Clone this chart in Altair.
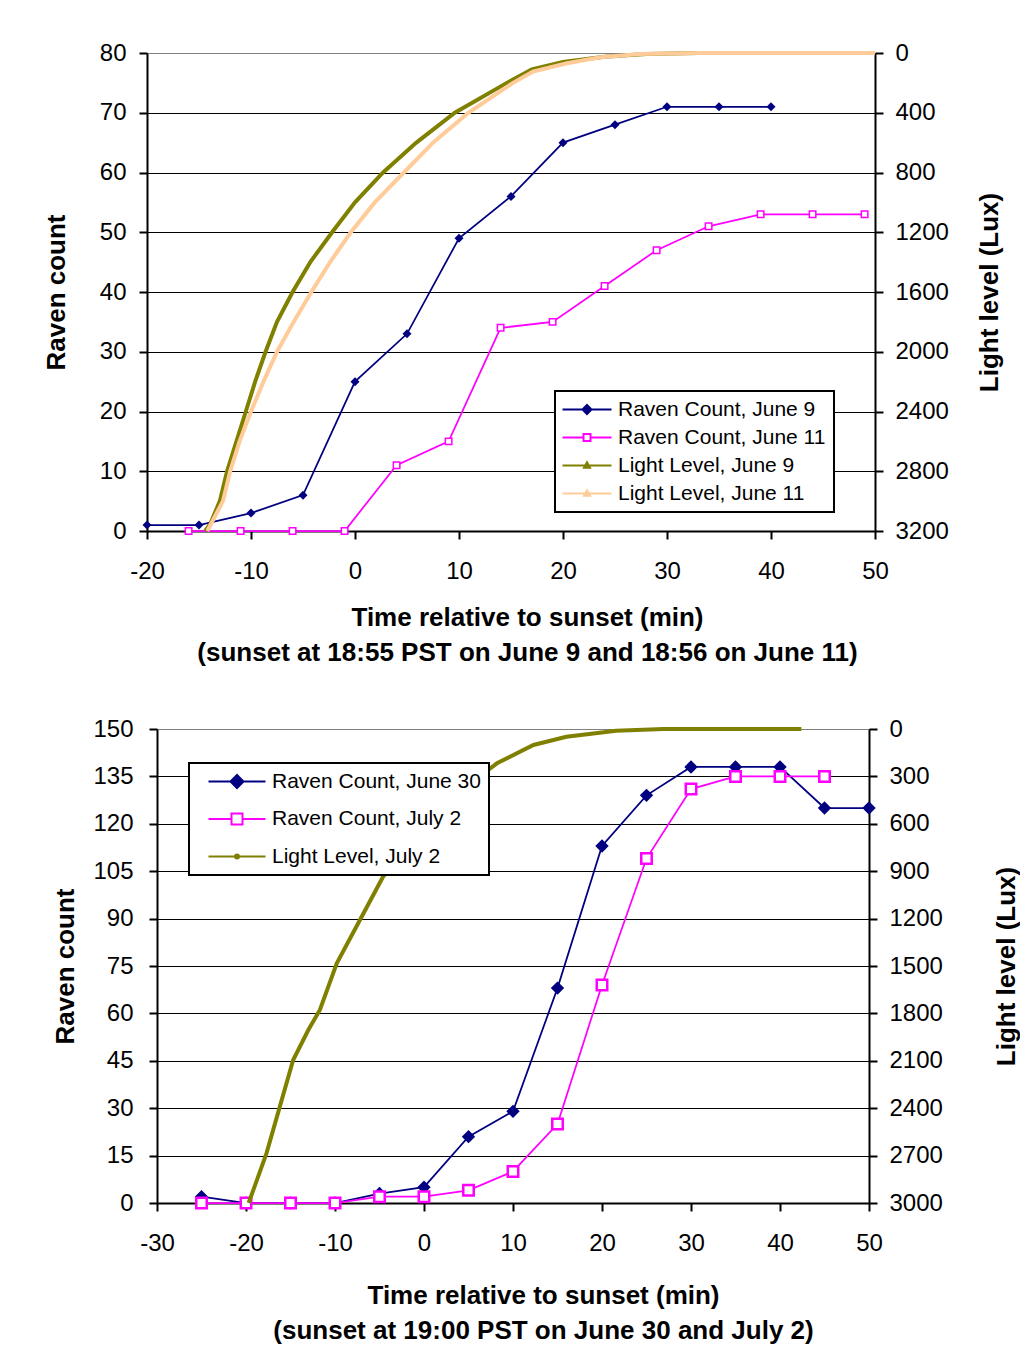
import altair as alt
import pandas as pd

# ---------------- Chart 1 (June 9 / June 11) ----------------
c1_t_june9 = [-20, -15, -10, -5, 0, 5, 10, 15, 20, 25, 30, 35, 40]
c1_raven_june9 = [1, 1, 3, 6, 25, 33, 49, 56, 65, 68, 71, 71, 71]
c1_t_june11 = [-16, -11, -6, -1, 4, 9, 14, 19, 24, 29, 34, 39, 44, 49]
c1_raven_june11 = [0, 0, 0, 0, 11, 15, 34, 35, 41, 47, 51, 53, 53, 53]

c1_light9_t = [-14.4, -13.9, -13.0, -12.3, -11.4, -10.5, -9.6, -8.6, -7.5, -6.0, -4.3,
               -2.2, 0.0, 2.7, 5.9, 9.6, 14.6, 17.0, 20.0, 24.0, 28.0, 33.0]
c1_light9_lux = [3200, 3150, 3000, 2800, 2600, 2400, 2200, 2000, 1800, 1600, 1400,
                 1200, 1000, 800, 600, 400, 200, 110, 60, 25, 6, 0]
c1_light11_t = [-14.2, -12.7, -12.0, -11.1, -10.0, -8.8, -7.5, -5.9, -4.2, -2.4, -0.4,
                1.9, 4.7, 7.5, 10.9, 15.2, 17.1, 20.4, 23.6, 27.4, 33.2, 50.0]
c1_light11_lux = [3200, 3000, 2800, 2600, 2400, 2200, 2000, 1800, 1600, 1400, 1200,
                  1000, 800, 600, 400, 200, 125, 69, 29, 7, 0, 0]

c1_series = ["Raven Count, June 9", "Raven Count, June 11",
             "Light Level, June 9", "Light Level, June 11"]
c1_x_ticks = [-20, -10, 0, 10, 20, 30, 40, 50]
c1_count_ticks = [0, 10, 20, 30, 40, 50, 60, 70, 80]
c1_lux_ticks = [0, 400, 800, 1200, 1600, 2000, 2400, 2800, 3200]
c1_title = ["Time relative to sunset (min)",
            "(sunset at 18:55 PST on June 9 and 18:56 on June 11)"]

# ---------------- Chart 2 (June 30 / July 2) ----------------
c2_t_june30 = [-25, -20, -15, -10, -5, 0, 5, 10, 15, 20, 25, 30, 35, 40, 45, 50]
c2_raven_june30 = [2, 0, 0, 0, 3, 5, 21, 29, 68, 113, 129, 138, 138, 138, 125, 125]
c2_t_july2 = [-25, -20, -15, -10, -5, 0, 5, 10, 15, 20, 25, 30, 35, 40, 45]
c2_raven_july2 = [0, 0, 0, 0, 2, 2, 4, 10, 25, 69, 109, 131, 135, 135, 135]

c2_light_t = [-19.7, -17.7, -16.2, -14.7, -13.0, -11.7, -9.8, -7.2, -4.6, -2.0, 0.0,
              2.0, 4.0, 6.0, 8.2, 12.3, 16.0, 21.6, 26.9, 42.4]
c2_light_lux = [3000, 2686, 2390, 2095, 1905, 1778, 1483, 1209, 935, 770, 640,
                520, 410, 310, 217, 101, 49, 11, 0, 0]

c2_series = ["Raven Count, June 30", "Raven Count, July 2", "Light Level, July 2"]
c2_x_ticks = [-30, -20, -10, 0, 10, 20, 30, 40, 50]
c2_count_ticks = [0, 15, 30, 45, 60, 75, 90, 105, 120, 135, 150]
c2_lux_ticks = [0, 300, 600, 900, 1200, 1500, 1800, 2100, 2400, 2700, 3000]
c2_title = ["Time relative to sunset (min)",
            "(sunset at 19:00 PST on June 30 and July 2)"]

NAVY = "#000080"
MAGENTA = "#FF00FF"
OLIVE = "#808000"
PEACH = "#FFCC99"
FONT = "Liberation Sans"
LABEL_EXPR = "datum.value < 0 ? '-' + abs(datum.value) : '' + datum.value"


def x_enc(domain, ticks, title, title_x, title_pad, rng=None):
    sc = dict(domain=domain, nice=False, zero=False)
    if rng is not None:
        sc["range"] = rng
    return alt.X("t:Q", title=title, scale=alt.Scale(**sc),
                 axis=alt.Axis(values=ticks, grid=False, labelExpr=LABEL_EXPR,
                               labelPadding=20, titleX=title_x, titlePadding=title_pad,
                               titleLineHeight=35, labelFlush=False))


def y_count(domain, ticks, label_pad, title_pad, offset=0):
    return alt.Y("v:Q", title="Raven count",
                 scale=alt.Scale(domain=domain, nice=False),
                 axis=alt.Axis(values=ticks, orient="left", grid=True, offset=offset,
                               gridColor={"condition": {"test": f"datum.value === {domain[1]}",
                                                        "value": "#808080"},
                                          "value": "#000000"},
                               labelExpr=LABEL_EXPR,
                               labelPadding=label_pad, titlePadding=title_pad))


def y_lux(domain, ticks, label_pad, title_pad):
    return alt.Y("v:Q", title="Light level (Lux)",
                 scale=alt.Scale(domain=domain, nice=False, reverse=True),
                 axis=alt.Axis(values=ticks, orient="right", grid=False,
                               labelExpr=LABEL_EXPR,
                               labelPadding=label_pad, titlePadding=title_pad,
                               titleAngle=270, titleBaseline="top"))


def df(t, v):
    return pd.DataFrame({"t": t, "v": v})


def legend_layer(series, paths, fills, strokes, lx, ly, row_pad, label_offset, label_expr=None):
    leg = dict(title=None, orient="none", legendX=lx, legendY=ly, direction="vertical",
               labelFont=FONT, labelFontSize=21, labelColor="black", labelLimit=500,
               labelOffset=label_offset, symbolSize=100, symbolStrokeWidth=2,
               symbolOpacity=1, rowPadding=row_pad, padding=8)
    if label_expr is not None:
        leg["labelExpr"] = label_expr
    return alt.Chart(pd.DataFrame({"series": series})).mark_point(opacity=0, size=100).encode(
        shape=alt.Shape("series:N", scale=alt.Scale(domain=series, range=paths),
                        legend=alt.Legend(**leg)),
        fill=alt.Fill("series:N", scale=alt.Scale(domain=series, range=fills),
                      legend=alt.Legend(**leg)),
        stroke=alt.Stroke("series:N", scale=alt.Scale(domain=series, range=strokes),
                          legend=alt.Legend(**leg)),
    )


# ---------- chart 1 ----------
x1 = x_enc([-20, 50], c1_x_ticks, c1_title, 380, 21)
yc1 = y_count([0, 80], c1_count_ticks, 13, 30)
yl1 = y_lux([0, 3200], c1_lux_ticks, 12, 28)

c1_paths = [
    "M-2.2,0H7.6M2.7,-0.9L3.6,0L2.7,0.9L1.8,0Z",
    "M-2.2,0H2M3.4,0H7.6M2,-0.7H3.4V0.7H2Z",
    "M-2.2,0H7.6M2.7,-0.65L3.3,0.45H2.1Z",
    "M-2.2,0H7.6M2.7,-0.65L3.3,0.45H2.1Z",
]
raven1 = alt.layer(
    alt.Chart(df(c1_t_june9, c1_raven_june9)).mark_line(color=NAVY, strokeWidth=1.75).encode(x=x1, y=yc1),
    alt.Chart(df(c1_t_june9, c1_raven_june9)).mark_point(shape="diamond", filled=True, color=NAVY, size=81, opacity=1).encode(x=x1, y=yc1),
    alt.Chart(df(c1_t_june11, c1_raven_june11)).mark_line(color=MAGENTA, strokeWidth=1.75).encode(x=x1, y=yc1),
    alt.Chart(df(c1_t_june11, c1_raven_june11)).mark_point(shape="square", fill="white", stroke=MAGENTA, strokeWidth=1.5, size=42, opacity=1).encode(x=x1, y=yc1),
    legend_layer(c1_series, c1_paths, [NAVY, "white", OLIVE, PEACH],
                 [NAVY, MAGENTA, OLIVE, PEACH], 408, 338, 6, 34),
)
light1 = alt.layer(
    alt.Chart(df(c1_light9_t, c1_light9_lux)).mark_line(color=OLIVE, strokeWidth=4).encode(x=x1, y=yl1),
    alt.Chart(df(c1_light11_t, c1_light11_lux)).mark_line(color=PEACH, strokeWidth=4).encode(x=x1, y=yl1),
)
chart1 = alt.layer(raven1, light1).resolve_scale(y="independent").properties(width=728, height=478)

# ---------- chart 2 ----------
x2 = x_enc([-30, 50], c2_x_ticks, c2_title, 396, 27, rng=[10, 722])
yc2 = y_count([0, 150], c2_count_ticks, 16, 14, offset=-10)
yl2 = y_lux([0, 3000], c2_lux_ticks, 12, 51)

c2_paths = [
    "M0.2,0H11.6M5.9,-1.3L7.2,0L5.9,1.3L4.6,0Z",
    "M0.2,0H4.8M7,0H11.6M4.8,-1.1H7V1.1H4.8Z",
    "M0.2,0H11.6M5.5,0A0.4,0.4 0 1,0 6.3,0A0.4,0.4 0 1,0 5.5,0Z",
]
raven2 = alt.layer(
    alt.Chart(df(c2_t_june30, c2_raven_june30)).mark_line(color=NAVY, strokeWidth=1.75).encode(x=x2, y=yc2),
    alt.Chart(df(c2_t_june30, c2_raven_june30)).mark_point(shape="diamond", filled=True, color=NAVY, size=180, opacity=1).encode(x=x2, y=yc2),
    alt.Chart(df(c2_t_july2, c2_raven_july2)).mark_line(color=MAGENTA, strokeWidth=1.75).encode(x=x2, y=yc2),
    alt.Chart(df(c2_t_july2, c2_raven_july2)).mark_point(shape="square", fill="white", stroke=MAGENTA, strokeWidth=2.5, size=110, opacity=1).encode(x=x2, y=yc2),
    legend_layer(c2_series, c2_paths, [NAVY, "white", OLIVE],
                 [NAVY, MAGENTA, OLIVE], 42, 34, 15.5, 54,
                 label_expr="datum.label + '\u00a0\u00a0\u00a0'"),
)
light2 = alt.layer(
    alt.Chart(df(c2_light_t, c2_light_lux)).mark_line(color=OLIVE, strokeWidth=4).encode(x=x2, y=yl2),
)
chart2 = alt.layer(raven2, light2).resolve_scale(y="independent").properties(width=722, height=474)

chart = alt.concat(chart1, chart2, columns=1, spacing=52).resolve_scale(
    shape="independent", fill="independent", stroke="independent"
).properties(
    padding={"left": 35, "top": 33, "right": 0, "bottom": 5}
).configure(font=FONT).configure_view(stroke=None).configure_axis(
    labelFont=FONT, labelFontSize=24, labelColor="black",
    titleFont=FONT, titleFontSize=26, titleFontWeight="bold", titleColor="black",
    domainColor="black", domainWidth=2, tickColor="black", tickWidth=2, tickSize=8,
    gridWidth=1
).configure_legend(
    strokeColor="black", strokeWidth=2, fillColor="white"
)

chart.save("out.html", embed_options={"renderer": "svg", "actions": False})
